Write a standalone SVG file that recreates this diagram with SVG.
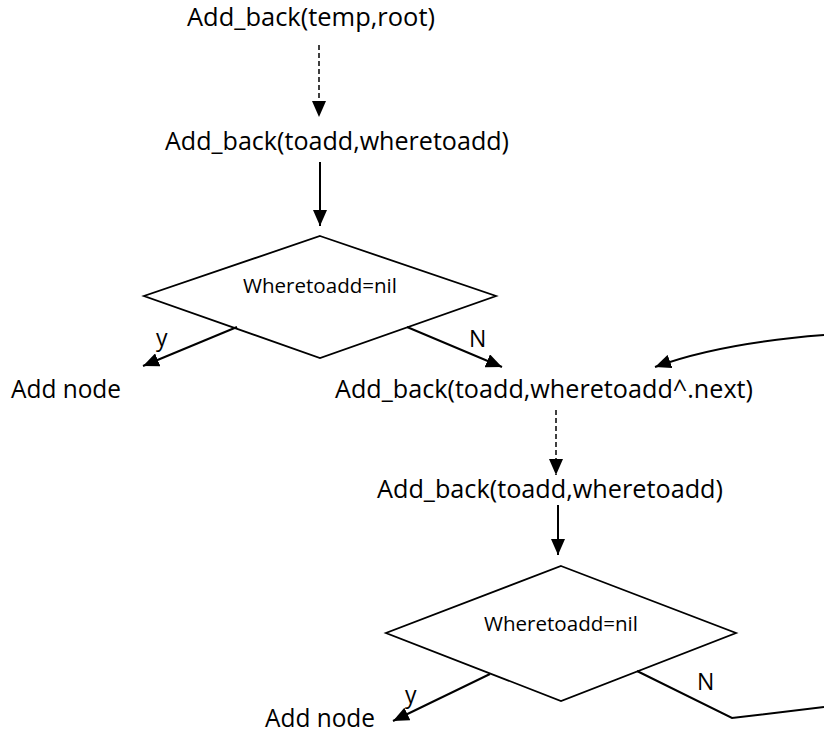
<svg xmlns="http://www.w3.org/2000/svg" width="824" height="735" viewBox="0 0 824 735">
  <style>
    .t { font-family: "Open Sans", "Liberation Sans", sans-serif; font-size: 25px; fill: #000; }
    .d { font-family: "Open Sans", "Liberation Sans", sans-serif; font-size: 19.5px; fill: #000; }
    .lbl { font-family: "Open Sans", "Liberation Sans", sans-serif; font-size: 23px; fill: #000; }
    .shape { fill: #fff; stroke: #000; stroke-width: 1.8; }
    .c { fill: none; stroke: #000; stroke-width: 2; }
    .dash { stroke-dasharray: 5 3; stroke-width: 1.5; }
  </style>
  <defs>
    <marker id="ah" viewBox="0 0 16 14" refX="16" refY="7" markerWidth="16" markerHeight="14" orient="auto" markerUnits="userSpaceOnUse">
      <path d="M0,0 L16,7 L0,14 z" fill="#000"/>
    </marker>
  </defs>
  <rect width="824" height="735" fill="#fff"/>

  <g id="call-root">
    <text class="t" x="187" y="26" textLength="248" lengthAdjust="spacingAndGlyphs">Add_back(temp,root)</text>
  </g>
  <g id="call-1">
    <text class="t" x="165" y="150" textLength="344" lengthAdjust="spacingAndGlyphs">Add_back(toadd,wheretoadd)</text>
  </g>
  <g id="decision-1">
    <polygon class="shape" points="320,236 496,296 320,358 144,296"/>
    <text class="d" x="243" y="293" textLength="154" lengthAdjust="spacingAndGlyphs">Wheretoadd=nil</text>
  </g>
  <g id="addnode-1">
    <text class="t" x="11" y="398" textLength="110" lengthAdjust="spacingAndGlyphs">Add node</text>
  </g>
  <g id="call-next">
    <text class="t" x="335" y="398" textLength="418" lengthAdjust="spacingAndGlyphs">Add_back(toadd,wheretoadd^.next)</text>
  </g>
  <g id="call-2">
    <text class="t" x="377" y="498" textLength="346" lengthAdjust="spacingAndGlyphs">Add_back(toadd,wheretoadd)</text>
  </g>
  <g id="decision-2">
    <polygon class="shape" points="561,566 736,633 561,701 386,633"/>
    <text class="d" x="484" y="631" textLength="154" lengthAdjust="spacingAndGlyphs">Wheretoadd=nil</text>
  </g>
  <g id="addnode-2">
    <text class="t" x="265" y="727" textLength="110" lengthAdjust="spacingAndGlyphs">Add node</text>
  </g>

  <g id="connectors">
    <line class="c dash" x1="319" y1="45" x2="319" y2="117" marker-end="url(#ah)"/>
    <line class="c" x1="320" y1="162" x2="320" y2="226" marker-end="url(#ah)"/>
    <line class="c" x1="237" y1="327" x2="143" y2="366" marker-end="url(#ah)"/>
    <text class="lbl" x="156" y="346">y</text>
    <line class="c" x1="407" y1="327" x2="502" y2="367" marker-end="url(#ah)"/>
    <text class="lbl" x="469" y="347">N</text>
    <path class="c" d="M824,335 Q720,343 655,367" marker-end="url(#ah)"/>
    <line class="c dash" x1="556" y1="410" x2="556" y2="475" marker-end="url(#ah)"/>
    <line class="c" x1="558" y1="505" x2="558" y2="555" marker-end="url(#ah)"/>
    <line class="c" x1="490" y1="674" x2="393" y2="721" marker-end="url(#ah)"/>
    <text class="lbl" x="405" y="703">y</text>
    <polyline class="c" points="637,671 732,718 824,707"/>
    <text class="lbl" x="697" y="690">N</text>
  </g>
</svg>
